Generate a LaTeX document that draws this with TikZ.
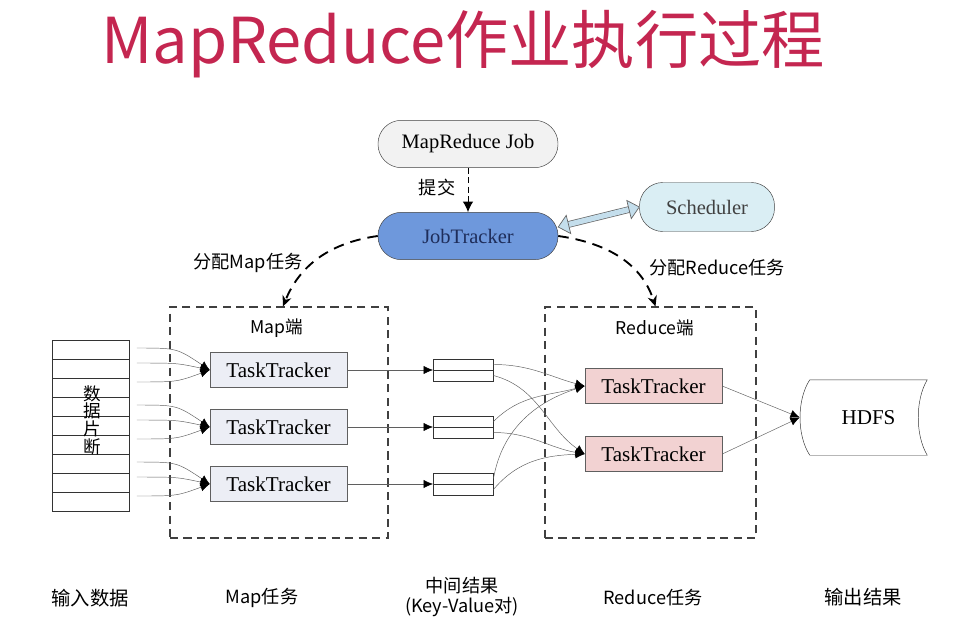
\documentclass[tikz,border=0pt]{standalone}
\usepackage{fontspec}
\setmainfont{Liberation Serif}
\newfontfamily\cjk{Noto Sans CJK SC}
\usetikzlibrary{positioning, calc, shapes, arrows.meta}

\definecolor{titlered}{RGB}{196,38,80}
\definecolor{jobgray}{RGB}{242,242,242}
\definecolor{jtblue}{RGB}{110,152,220}
\definecolor{jtnavy}{RGB}{30,45,90}
\definecolor{schedcyan}{RGB}{218,238,244}
\definecolor{arrowcyan}{RGB}{196,222,236}
\definecolor{maptt}{RGB}{236,238,245}
\definecolor{redtt}{RGB}{242,210,210}
\definecolor{linegray}{RGB}{95,95,95}

\begin{document}
\begin{tikzpicture}[x=0.03cm, y=0.03cm, node distance=1.71cm]
        \tikzstyle{pill}=[draw=black!75, rectangle, rounded corners=0.7cm, minimum width=5.4cm, minimum height=1.42cm, font=\fontsize{17.5}{20}\selectfont];
        \tikzstyle{tt}=[draw=linegray, rectangle, minimum width=4.11cm, minimum height=1.05cm, font=\fontsize{18}{20}\selectfont];
        \tikzstyle{cell}=[draw=black!80, rectangle, minimum width=2.31cm, minimum height=0.57cm];
        \tikzstyle{half}=[draw=black!80, rectangle, minimum width=1.8cm, minimum height=0.33cm];
        \tikzstyle{side}=[draw=black!75, line width=1pt, dash pattern=on 7pt off 4.5pt, rectangle];
        \tikzstyle{conn}=[draw=linegray, -{Latex[length=8pt, width=7pt, color=black]}];
        \tikzstyle{assign}=[line width=1.6pt, dash pattern=on 9pt off 6pt, -{Stealth[length=9pt, width=8pt]}];
        \tikzstyle{lbl}=[font=\cjk\fontsize{15.5}{17}\selectfont];
        \tikzstyle{hollow}=[draw=black!60, line width=0.6pt, fill=arrowcyan];
        \useasboundingbox (0,0) rectangle (963,-620);

        % title
        \node[text=titlered, font=\cjk\fontsize{54}{60}\selectfont] (title) at (463,-44) {MapReduce作业执行过程};

        % job, jobtracker, scheduler
        \node[pill, fill=jobgray] (job) at (468,-144) {MapReduce Job};
        \node[pill, fill=jtblue, text=jtnavy] (jt) at (468,-236) {JobTracker};
        \node[pill, fill=schedcyan, minimum width=4.05cm, minimum height=1.47cm, text=black!75] (sched) at (707,-207) {Scheduler};

        \draw[dash pattern=on 5pt off 3pt, thick, -{Latex[length=9pt, width=9pt]}] (job) -- (jt);
        \node[lbl] (submit) at (437,-188) {提交};
        \draw[draw=black!60, line width=0.6pt, double=arrowcyan, double distance=4.5pt, shorten <=9pt, shorten >=9pt]
          ($(jt.east)+(0,9)$) coordinate (dl) -- (sched.west) coordinate (dr);
        \path let \p1 = ($(dr)-(dl)$), \n1 = {atan2(\y1,\x1)} in
          [hollow] (dl) -- ($(dl)+(\n1:9pt)+(\n1+90:8pt)$) -- ($(dl)+(\n1:9pt)+(\n1-90:8pt)$) -- cycle
          (dr) -- ($(dr)+(\n1+180:9pt)+(\n1+90:8pt)$) -- ($(dr)+(\n1+180:9pt)+(\n1-90:8pt)$) -- cycle;

        % map side and reduce side
        \node[side, minimum width=6.54cm, minimum height=6.93cm] (mapside) at (279,-422.5) {};
        \node[side, minimum width=6.33cm, minimum height=6.93cm] (redside) at (650.5,-422.5) {};
        \node[font=\cjk\fontsize{15}{17}\selectfont] (maplbl) at (277,-328) {Map端};
        \node[font=\cjk\fontsize{15}{17}\selectfont] (redlbl) at (655,-328) {Reduce端};

        \draw[assign] (jt.west) to[out=188, in=68] ($(mapside.north)+(4,0)$);
        \draw[assign] (jt.east) to[out=-8, in=108] ($(redside.north)+(5,0)$);
        \node[lbl] (assignmap) at (248,-263) {分配Map任务};
        \node[lbl] (assignred) at (717,-268) {分配Reduce任务};

        % input data
        \foreach \i in {0,...,8}
          \node[cell] (in\i) at (90.5,-349.5-19*\i) {};
        \node[font=\cjk\fontsize{15}{17}\selectfont, align=center, inner sep=0pt] (inlabel) at (92,-420) {数\\[-2pt]据\\[-2pt]片\\[-2pt]断};

        % map tasktrackers
        \node[tt, fill=maptt] (mtt1) at (278.5,-370) {TaskTracker};
        \node[tt, fill=maptt, below of=mtt1] (mtt2) {TaskTracker};
        \node[tt, fill=maptt, below of=mtt2] (mtt3) {TaskTracker};

        \foreach \t in {1,2,3}
          \foreach \d [count=\k] in {22,7,-12} {
            \coordinate (src\t\k) at ($(mtt\t.west)+(-73,\d)$);
            \draw[conn] (src\t\k) .. controls +(40,0) .. (mtt\t.west);
          }

        % key-value results
        \foreach \t in {1,2,3} {
          \node[half] (kv\t a) at ($(mtt\t.east)+(116,5.5)$) {};
          \node[half] (kv\t b) at ($(mtt\t.east)+(116,-5.5)$) {};
          \draw[conn] (mtt\t.east) -- (mtt\t.east -| kv\t a.west);
        }

        % reduce tasktrackers
        \node[tt, fill=redtt] (rtt1) at (653.5,-386) {TaskTracker};
        \node[tt, fill=redtt, below of=rtt1, yshift=-0.33cm] (rtt2) {TaskTracker};

        \path
        (kv1a.east) edge[conn, out=0, in=165] (rtt1.west)
        (kv1b.east) edge[conn, out=-15, in=145] (rtt2.west)
        (kv2a.east) edge[conn, out=45, in=195] (rtt1.west)
        (kv2b.east) edge[conn, out=0, in=170] (rtt2.west)
        (kv3a.east) edge[conn, out=80, in=198] (rtt1.west)
        (kv3b.east) edge[conn, out=50, in=182] (rtt2.west);

        % hdfs
        \node[minimum width=3.51cm, minimum height=2.25cm, font=\fontsize{18}{20}\selectfont] (hdfs) at (868.5,-417.5) {HDFS};
        \draw[draw=black!80] (hdfs.north west) -- (hdfs.north east)
          .. controls ($(hdfs.north east)+(-12,-20)$) and ($(hdfs.south east)+(-12,20)$) .. (hdfs.south east)
          -- (hdfs.south west)
          .. controls ($(hdfs.south west)+(-13,20)$) and ($(hdfs.north west)+(-13,-20)$) .. (hdfs.north west);
        \coordinate (hdfsin) at ($(hdfs.west)+(-10,0)$);
        \path
        (rtt1.east) edge[conn] (hdfsin)
        (rtt2.east) edge[conn] (hdfsin);

        % bottom captions
        \node[lbl, font=\cjk\fontsize{16.5}{18}\selectfont] (cap1) at (90,-598) {输入数据};
        \node[lbl] (cap2) at (262,-598) {Map任务};
        \node[lbl, align=center] (cap3) at (462,-597) {中间结果\\(Key-Value对)};
        \node[lbl] (cap4) at (653,-598) {Reduce任务};
        \node[lbl, font=\cjk\fontsize{16.5}{18}\selectfont] (cap5) at (863,-597) {输出结果};
      \end{tikzpicture}
\end{document}
